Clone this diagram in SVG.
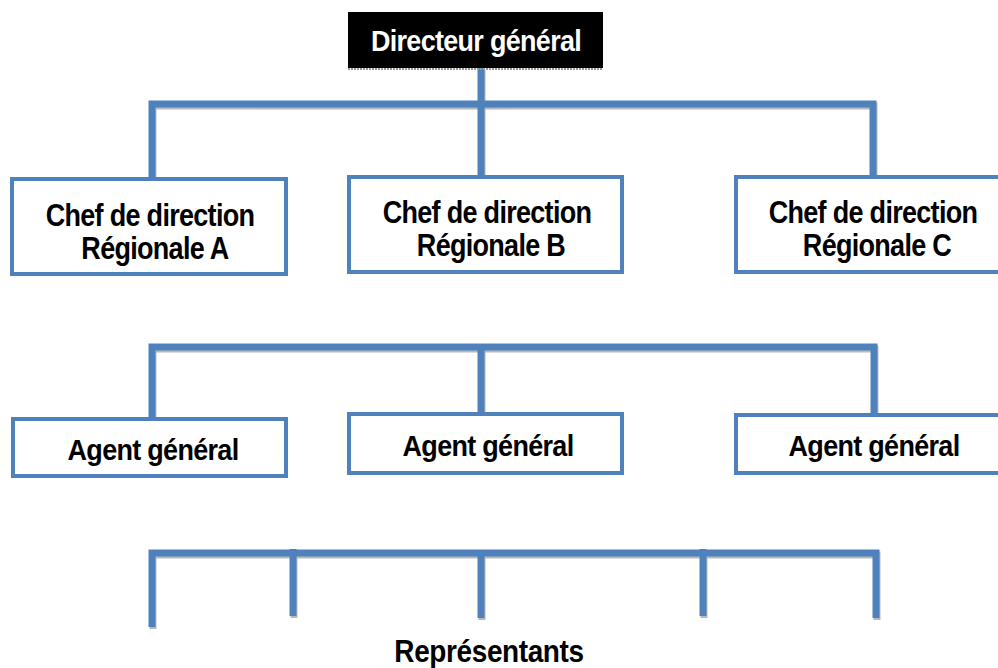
<svg xmlns="http://www.w3.org/2000/svg" width="998" height="668" viewBox="0 0 998 668">
<style>
.box{fill:#fff;stroke:#4f81bd;stroke-width:4}
.t{font-family:"Liberation Sans",Arial,sans-serif;font-weight:bold;font-size:27px;letter-spacing:-0.7px;fill:#000;text-anchor:middle}
.ln{fill:none;stroke:#4f81bd;stroke-width:7;stroke-linecap:butt;stroke-linejoin:miter}
.sh{fill:none;stroke:#a6a6a6;stroke-width:7;stroke-linejoin:miter}
</style>
<rect width="998" height="668" fill="#fff"/>
<g id="connectors">
  <g transform="translate(1,2)" opacity="0.8">
    <path class="sh" d="M481 68V104M152 178V104H873V178"/>
    <path class="sh" d="M481 104V175"/>
    <path class="sh" d="M152 419V347H874V413M481 347V413"/>
    <path class="sh" d="M152 627V553H876V618M293 553V616M481 553V618M703 553V616"/>
  </g>
  <path class="ln" d="M481 68V104M152 178V104H873V178"/>
  <path class="ln" d="M481 104V175"/>
  <path class="ln" d="M152 419V347H874V413M481 347V413"/>
  <path class="ln" d="M152 627V553H876V618M293 549V616M481 553V618M703 549V616"/>
</g>
<g id="dg">
  <rect x="348" y="12" width="255" height="56" fill="#000"/>
  <line x1="348" y1="69" x2="603" y2="69" stroke="#999" stroke-width="2" stroke-dasharray="2 1"/>
  <text class="t" transform="translate(476,51) scale(1,1.12)" style="fill:#fff">Directeur général</text>
</g>
<g id="chefA">
  <rect class="box" x="12" y="179" width="274" height="95"/>
  <text class="t" transform="translate(150,226) scale(1,1.18)">Chef de direction</text>
  <text class="t" transform="translate(155,259) scale(1,1.18)">Régionale A</text>
</g>
<g id="chefB">
  <rect class="box" x="349" y="177" width="273" height="95"/>
  <text class="t" transform="translate(487,223) scale(1,1.18)">Chef de direction</text>
  <text class="t" transform="translate(491,256) scale(1,1.18)">Régionale B</text>
</g>
<g id="chefC">
  <rect class="box" x="736" y="177" width="266" height="95"/>
  <text class="t" transform="translate(873,223) scale(1,1.18)">Chef de direction</text>
  <text class="t" transform="translate(877,256) scale(1,1.18)">Régionale C</text>
</g>
<g id="agentA">
  <rect class="box" x="13" y="419" width="273" height="57"/>
  <text class="t" transform="translate(153,460) scale(1,1.12)">Agent général</text>
</g>
<g id="agentB">
  <rect class="box" x="349" y="414" width="273" height="59"/>
  <text class="t" transform="translate(488,456) scale(1,1.12)">Agent général</text>
</g>
<g id="agentC">
  <rect class="box" x="736" y="415" width="266" height="58"/>
  <text class="t" transform="translate(874,456) scale(1,1.12)">Agent général</text>
</g>
<g id="representants">
  <text class="t" transform="translate(489,662) scale(1,1.12)" style="font-size:28px;letter-spacing:-0.4px">Représentants</text>
</g>
</svg>
